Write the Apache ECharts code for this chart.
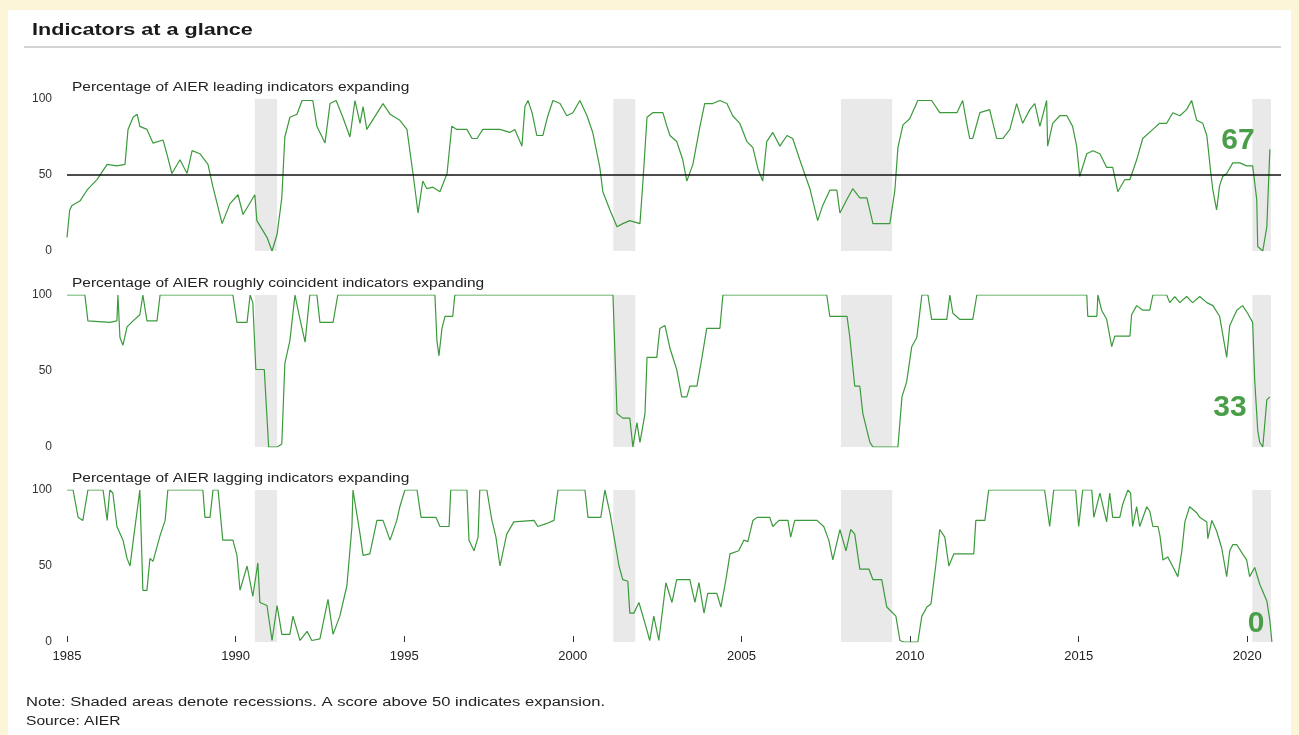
<!DOCTYPE html>
<html>
<head>
<meta charset="utf-8">
<script src="https://cdn.jsdelivr.net/npm/echarts@6/dist/echarts.min.js"></script>
<style>
html,body{margin:0;padding:0;background:#fcf5d7;}
#chart{width:1299px;height:735px;}
</style>
</head>
<body>
<div id="chart"></div>
<script>
// ---- data (year, percent) ----
var tickYears = [1985, 1990, 1995, 2000, 2005, 2010, 2015, 2020];
var recessions = [[1990.57, 1991.23], [2001.2, 2001.85], [2007.95, 2009.47], [2020.15, 2020.7]];
var panelTitles = [
  'Percentage of AIER leading indicators expanding',
  'Percentage of AIER roughly coincident indicators expanding',
  'Percentage of AIER lagging indicators expanding'
];
var leading = [
[1985.00,9],[1985.08,27],[1985.15,30],[1985.39,33],[1985.59,40],[1985.89,47],[1986.19,57],[1986.48,56],[1986.72,57],[1986.81,80],[1986.96,88],[1987.08,90],[1987.16,82],[1987.37,80],[1987.55,71],[1987.85,73],[1987.96,64],[1988.11,51],[1988.35,60],[1988.56,51],[1988.71,66],[1988.94,64],[1989.18,57],[1989.33,42],[1989.60,18],[1989.83,31],[1990.07,37],[1990.22,24],[1990.57,37],[1990.63,20],[1990.93,9],[1991.08,0],[1991.23,11],[1991.37,35],[1991.46,75],[1991.61,88],[1991.82,90],[1991.97,99],[1992.29,99],[1992.41,82],[1992.65,71],[1992.80,97],[1992.98,99],[1993.18,88],[1993.39,75],[1993.54,99],[1993.69,84],[1993.78,95],[1993.89,80],[1994.37,97],[1994.58,90],[1994.87,86],[1995.08,80],[1995.26,51],[1995.41,25],[1995.55,46],[1995.67,41],[1995.85,42],[1996.06,39],[1996.27,51],[1996.41,82],[1996.56,80],[1996.86,80],[1997.01,74],[1997.16,74],[1997.33,80],[1997.84,80],[1998.13,78],[1998.28,80],[1998.49,69],[1998.58,95],[1998.67,99],[1998.79,91],[1998.93,76],[1999.11,76],[1999.26,89],[1999.41,99],[1999.62,97],[1999.82,89],[2000.00,91],[2000.21,99],[2000.42,89],[2000.59,78],[2000.80,55],[2000.89,39],[2001.10,27],[2001.31,16],[2001.48,18],[2001.69,20],[2001.99,18],[2002.08,46],[2002.20,88],[2002.37,91],[2002.67,91],[2002.79,82],[2002.88,76],[2003.08,72],[2003.26,60],[2003.38,46],[2003.56,57],[2003.77,82],[2003.91,97],[2004.15,97],[2004.36,99],[2004.57,97],[2004.74,89],[2004.95,84],[2005.16,72],[2005.34,68],[2005.49,54],[2005.63,46],[2005.75,72],[2005.93,78],[2006.14,69],[2006.35,76],[2006.52,74],[2006.73,60],[2007.03,41],[2007.26,20],[2007.41,30],[2007.62,40],[2007.83,40],[2007.92,25],[2008.13,34],[2008.30,41],[2008.51,35],[2008.72,35],[2008.90,18],[2009.40,18],[2009.55,40],[2009.64,68],[2009.79,83],[2009.99,87],[2010.23,99],[2010.64,99],[2010.88,91],[2011.39,91],[2011.56,99],[2011.68,84],[2011.77,74],[2011.86,74],[2012.07,91],[2012.36,93],[2012.57,74],[2012.75,74],[2012.96,80],[2013.16,97],[2013.34,84],[2013.55,93],[2013.70,97],[2013.85,82],[2014.05,99],[2014.08,69],[2014.23,84],[2014.44,89],[2014.65,89],[2014.82,82],[2014.94,69],[2015.03,49],[2015.24,64],[2015.42,66],[2015.63,64],[2015.83,55],[2016.01,55],[2016.16,39],[2016.37,47],[2016.52,47],[2016.72,60],[2016.90,74],[2017.20,80],[2017.40,84],[2017.61,84],[2017.79,91],[2018.00,89],[2018.20,93],[2018.35,99],[2018.50,86],[2018.68,84],[2018.80,76],[2018.83,70],[2018.92,51],[2018.98,40],[2019.09,27],[2019.18,43],[2019.27,49],[2019.39,51],[2019.57,58],[2019.78,58],[2019.98,56],[2020.16,56],[2020.28,34],[2020.31,3],[2020.46,0],[2020.58,16],[2020.67,67]
];
var coincident = [
[1985.00,100],[1985.53,100],[1985.62,83],[1986.27,82],[1986.48,83],[1986.51,100],[1986.57,72],[1986.66,67],[1986.78,79],[1986.96,83],[1987.16,87],[1987.25,100],[1987.37,83],[1987.67,83],[1987.76,100],[1989.92,100],[1990.04,82],[1990.34,82],[1990.43,100],[1990.51,95],[1990.60,51],[1990.85,51],[1990.98,0],[1991.23,0],[1991.37,2],[1991.46,55],[1991.61,70],[1991.76,100],[1991.91,84],[1992.06,69],[1992.20,100],[1992.41,100],[1992.50,82],[1992.89,82],[1993.03,100],[1995.91,100],[1995.97,70],[1996.03,60],[1996.12,78],[1996.21,86],[1996.44,86],[1996.50,100],[2001.19,100],[2001.31,22],[2001.48,19],[2001.69,19],[2001.78,0],[2001.90,16],[2001.99,3],[2002.14,22],[2002.20,59],[2002.49,59],[2002.58,78],[2002.73,80],[2002.88,65],[2003.08,51],[2003.23,33],[2003.38,33],[2003.47,40],[2003.68,40],[2003.83,59],[2003.97,78],[2004.36,78],[2004.45,100],[2007.53,100],[2007.62,86],[2008.13,86],[2008.21,73],[2008.36,40],[2008.51,40],[2008.60,22],[2008.81,3],[2008.90,0],[2009.64,0],[2009.76,33],[2009.90,43],[2010.05,66],[2010.20,72],[2010.35,100],[2010.53,100],[2010.64,84],[2011.09,84],[2011.18,100],[2011.27,88],[2011.47,84],[2011.86,84],[2011.98,100],[2015.24,100],[2015.27,86],[2015.54,86],[2015.57,100],[2015.68,90],[2015.83,84],[2015.98,66],[2016.07,73],[2016.52,73],[2016.57,87],[2016.72,93],[2016.90,90],[2017.11,90],[2017.20,100],[2017.61,100],[2017.70,95],[2017.85,99],[2018.00,95],[2018.20,99],[2018.38,95],[2018.59,99],[2018.80,95],[2018.98,93],[2019.18,86],[2019.39,59],[2019.48,80],[2019.69,90],[2019.86,93],[2020.01,88],[2020.16,82],[2020.22,44],[2020.31,11],[2020.37,3],[2020.46,0],[2020.58,31],[2020.67,33]
];
var lagging = [
[1985.00,100],[1985.18,100],[1985.33,82],[1985.47,80],[1985.62,100],[1986.07,100],[1986.19,80],[1986.27,100],[1986.36,98],[1986.48,76],[1986.66,67],[1986.78,55],[1986.87,50],[1986.96,66],[1987.16,100],[1987.25,34],[1987.37,34],[1987.46,55],[1987.55,53],[1987.76,70],[1987.91,80],[1987.99,100],[1989.03,100],[1989.09,82],[1989.24,82],[1989.33,100],[1989.48,100],[1989.62,67],[1989.92,67],[1990.04,57],[1990.13,34],[1990.34,50],[1990.51,30],[1990.66,52],[1990.72,26],[1990.93,24],[1991.08,1],[1991.23,24],[1991.37,5],[1991.61,5],[1991.70,17],[1991.91,1],[1992.12,7],[1992.26,1],[1992.50,2],[1992.74,28],[1992.89,5],[1993.09,17],[1993.30,37],[1993.45,76],[1993.48,100],[1993.69,71],[1993.78,57],[1993.98,58],[1994.19,80],[1994.37,80],[1994.58,67],[1994.78,80],[1994.87,89],[1995.02,100],[1995.38,100],[1995.50,82],[1995.94,82],[1996.06,76],[1996.33,76],[1996.38,100],[1996.86,100],[1996.92,67],[1997.07,60],[1997.19,69],[1997.24,100],[1997.45,100],[1997.60,80],[1997.72,69],[1997.84,50],[1998.04,71],[1998.25,79],[1998.85,80],[1998.96,76],[1999.23,78],[1999.44,80],[1999.56,100],[2000.36,100],[2000.45,82],[2000.83,82],[2000.95,100],[2001.10,85],[2001.37,50],[2001.48,41],[2001.63,40],[2001.69,19],[2001.81,19],[2001.96,26],[2002.17,10],[2002.28,1],[2002.40,17],[2002.55,1],[2002.76,39],[2002.94,26],[2003.08,41],[2003.47,41],[2003.62,26],[2003.74,39],[2003.89,19],[2004.00,32],[2004.27,32],[2004.39,23],[2004.54,41],[2004.66,58],[2004.92,60],[2005.07,67],[2005.19,66],[2005.34,80],[2005.46,82],[2005.84,82],[2005.93,76],[2006.11,80],[2006.38,80],[2006.46,69],[2006.58,80],[2007.24,80],[2007.44,76],[2007.59,67],[2007.71,54],[2007.92,74],[2008.10,60],[2008.24,74],[2008.36,71],[2008.51,48],[2008.78,48],[2008.90,41],[2009.16,41],[2009.31,23],[2009.58,17],[2009.70,1],[2009.82,0],[2010.23,0],[2010.35,17],[2010.50,23],[2010.62,25],[2010.76,50],[2010.88,74],[2011.03,69],[2011.15,50],[2011.30,58],[2011.89,58],[2011.95,80],[2012.22,80],[2012.33,100],[2013.99,100],[2014.14,76],[2014.26,100],[2014.91,100],[2015.00,76],[2015.12,100],[2015.39,100],[2015.45,82],[2015.63,98],[2015.83,79],[2015.92,98],[2016.01,82],[2016.22,82],[2016.31,91],[2016.46,100],[2016.54,98],[2016.60,76],[2016.72,89],[2016.81,76],[2017.02,89],[2017.11,86],[2017.20,76],[2017.35,76],[2017.41,70],[2017.50,54],[2017.64,56],[2017.76,51],[2017.94,43],[2018.06,60],[2018.15,79],[2018.29,89],[2018.50,85],[2018.59,82],[2018.80,79],[2018.83,68],[2018.95,80],[2019.09,73],[2019.24,62],[2019.39,43],[2019.48,60],[2019.57,64],[2019.69,64],[2019.86,58],[2019.98,54],[2020.07,43],[2020.22,49],[2020.37,38],[2020.58,27],[2020.67,14],[2020.73,0]
];

// ---- layout ----
var GREEN = '#3b9a3b';
var gridTops = [99, 295, 490];
var gridH = 152;
var seriesData = [leading, coincident, lagging];
var labelPos = [[1238, 141], [1230, 408], [1256, 624]];
var FONT = 'Liberation Sans';

var chart = echarts.init(document.getElementById('chart'), null, {renderer: 'canvas'});

var grids = [], xAxes = [], yAxes = [], series = [];
for (var i = 0; i < 3; i++) {
  grids.push({left: 67, right: 18, top: gridTops[i], height: gridH, containLabel: false});
  var last = i === 2;
  xAxes.push({
    type: 'value', gridIndex: i, min: 1985, max: 2021,
    axisLine: {show: false},
    splitLine: {show: false},
    axisTick: {show: last, inside: true, length: 6, customValues: tickYears, lineStyle: {color: '#333'}},
    axisLabel: {show: last, customValues: tickYears, color: '#222', fontSize: 13, fontFamily: FONT, margin: 8,
      formatter: function (v) { return String(v); }}
  });
  yAxes.push({
    type: 'value', gridIndex: i, min: 0, max: 100, interval: 50,
    axisLine: {show: false}, axisTick: {show: false}, splitLine: {show: false},
    axisLabel: {color: '#333', fontSize: 12, fontFamily: FONT, margin: 15}
  });
  var s = {
    type: 'line', xAxisIndex: i, yAxisIndex: i, data: seriesData[i],
    showSymbol: false, silent: true, z: 3,
    lineStyle: {color: GREEN, width: 1.2},
    markArea: {
      silent: true,
      itemStyle: {color: '#e9e9e9'},
      data: recessions.map(function (r) { return [{xAxis: r[0]}, {xAxis: r[1]}]; })
    }
  };
  if (i === 0) {
    s.markLine = {
      silent: true, symbol: 'none', label: {show: false},
      lineStyle: {color: '#111', width: 1.6, type: 'solid'},
      data: [{yAxis: 50}]
    };
  }
  series.push(s);
}

var graphics = [
  {type: 'rect', shape: {x: 8, y: 10, width: 1283, height: 725}, style: {fill: '#ffffff'}, z: -10, silent: true},
  {type: 'text', x: 32, y: 31, scaleX: 1.35, style: {text: 'Indicators at a glance', fontSize: 16, fontWeight: 'bold', fontFamily: FONT, fill: '#1a1a1a', textVerticalAlign: 'middle'}},
  {type: 'line', shape: {x1: 24, y1: 47, x2: 1281, y2: 47}, style: {stroke: '#a8a8a8', lineWidth: 1}},
  {type: 'text', x: 26, y: 703, scaleX: 1.38, style: {text: 'Note: Shaded areas denote recessions. A score above 50 indicates expansion.', fontSize: 12, fontFamily: FONT, fill: '#222', textVerticalAlign: 'middle'}},
  {type: 'text', x: 26, y: 722, scaleX: 1.3, style: {text: 'Source: AIER', fontSize: 12, fontFamily: FONT, fill: '#222', textVerticalAlign: 'middle'}}
];
for (var j = 0; j < 3; j++) {
  graphics.push({type: 'text', x: 72, y: gridTops[j] - 11, scaleX: 1.29,
    style: {text: panelTitles[j], fontSize: 12, fontFamily: FONT, fill: '#222', textVerticalAlign: 'middle'}, z: 10});
  var d = seriesData[j];
  graphics.push({type: 'text', x: labelPos[j][0], y: labelPos[j][1],
    style: {text: String(d[d.length - 1][1]), fontSize: 30, fontWeight: 'bold', fontFamily: FONT, fill: '#4a9e4a', textAlign: 'center', textVerticalAlign: 'middle'}, z: 10});
}

chart.setOption({
  backgroundColor: '#fcf5d7',
  animation: false,
  grid: grids,
  xAxis: xAxes,
  yAxis: yAxes,
  series: series,
  graphic: graphics
});
</script>
</body>
</html>
